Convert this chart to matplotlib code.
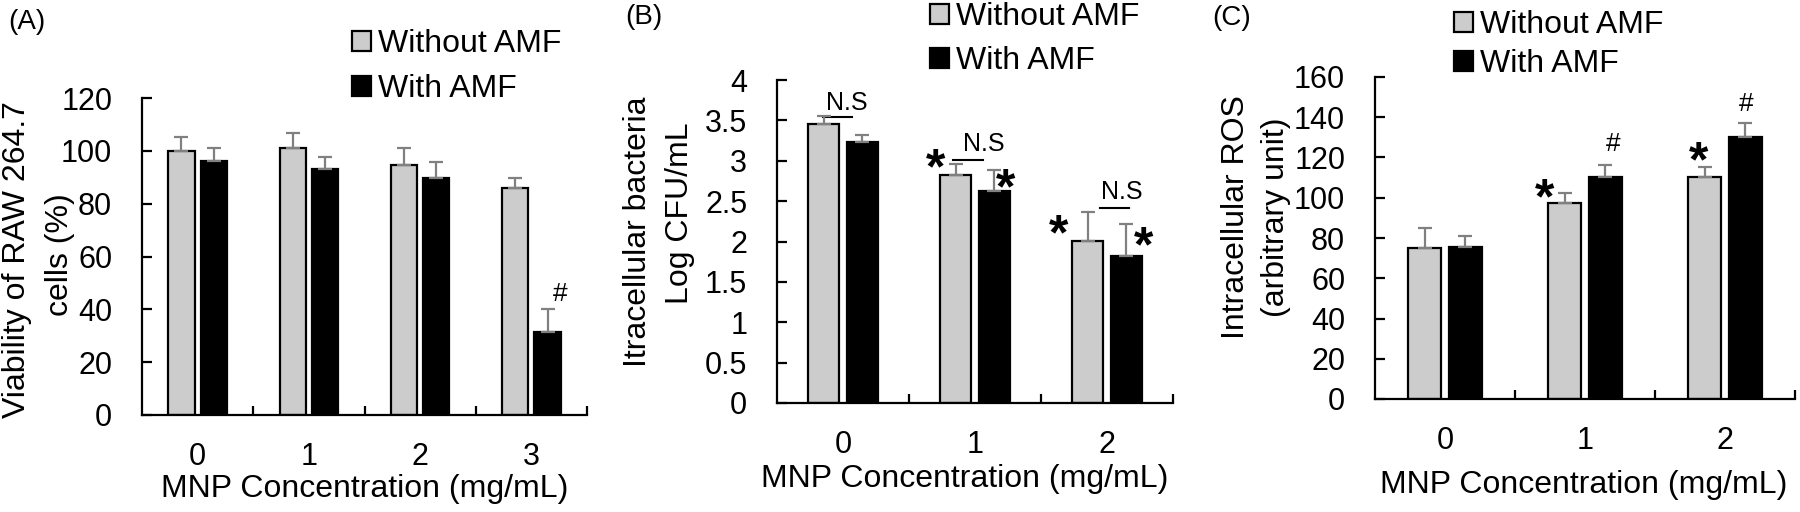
import numpy as np
import matplotlib
matplotlib.use("Agg")
import matplotlib.pyplot as plt

plt.rcParams["font.family"] = ["Liberation Sans", "DejaVu Sans"]

# (A) cell viability
conc_a = ["0", "1", "2", "3"]
viab_without = [100, 101, 94.8, 85.8]
viab_without_err = [5.3, 5.9, 6.4, 4.0]
viab_with = [96.3, 93, 89.8, 31.5]
viab_with_err = [4.7, 4.5, 6.1, 8.5]

# (B) intracellular bacteria
conc_b = ["0", "1", "2"]
cfu_without = [3.46, 2.82, 2.01]
cfu_without_err = [0.09, 0.14, 0.36]
cfu_with = [3.23, 2.62, 1.82]
cfu_with_err = [0.09, 0.26, 0.40]

# (C) intracellular ROS
conc_c = ["0", "1", "2"]
ros_without = [75.2, 97.4, 110.3]
ros_without_err = [9.9, 5.0, 5.0]
ros_with = [75.4, 110.3, 130.2]
ros_with_err = [5.6, 6.0, 6.8]

# significance marks: (category, offset, value)
hash_a = [(3, 0.26, 46.6)]
star_b = [(1, -0.30, 2.98), (1, 0.23, 2.74), (2, -0.37, 2.17), (2, 0.28, 2.02)]
# N.S bracket: (category, x0, x1, line value, text offset, text value)
ns_b = [(0, -0.15, 0.07, 3.54, 0.03, 3.75),
        (1, -0.165, 0.06, 3.01, 0.065, 3.24),
        (2, -0.05, 0.17, 2.41, 0.11, 2.64)]
star_c = [(1, -0.286, 103), (2, -0.19, 121)]
hash_c = [(1, 0.20, 127.7), (2, 0.15, 147.6)]

GRAY = "#cccccc"
ERR = "#808080"
W = 0.235
OFF = 0.145

fig = plt.figure(figsize=(18, 5.12), dpi=100)


def panel(rect, cats, a, aerr, b, berr, ymax, ystep, ylines, xlab_xy,
          leg_xy, leg_space, tag, tag_xy):
    ax = fig.add_axes(rect)
    x = np.arange(len(cats)) + 0.5
    kw = dict(width=W, edgecolor="black", linewidth=1.6, zorder=2)
    ekw = dict(ecolor=ERR, elinewidth=1.6, capsize=4.7, capthick=1.6)
    ax.bar(x - OFF, a, color=GRAY, label="Without AMF",
           yerr=[np.zeros(len(a)), aerr], error_kw=ekw, **kw)
    ax.bar(x + OFF, b, color="black", label="With AMF",
           yerr=[np.zeros(len(b)), berr], error_kw=ekw, **kw)

    ax.set_xlim(0, len(cats))
    ax.set_ylim(0, ymax)
    ax.set_xticks(x)
    ax.set_xticklabels(cats)
    ax.set_xticks(np.arange(1, len(cats) + 1), minor=True)
    ax.tick_params(axis="x", which="major", length=0, pad=19.5, labelsize=22)
    ax.tick_params(axis="x", which="minor", direction="in", length=6.5, width=1.6)
    yt = np.arange(0, ymax + ystep / 2, ystep)
    ax.set_yticks(yt)
    ax.set_yticklabels([f"{v:g}" for v in yt])
    ax.tick_params(axis="y", direction="in", length=7, width=1.6, pad=21.5,
                   labelsize=22)
    for s in ["top", "right"]:
        ax.spines[s].set_visible(False)
    for s in ["left", "bottom"]:
        ax.spines[s].set_linewidth(1.6)

    # two-line y label, each line placed where it sits in the original
    for txt, lx, ly in ylines:
        ax.text(lx, ly, txt, transform=ax.transAxes, rotation=90,
                ha="center", va="center", fontsize=23)
    ax.set_xlabel("MNP Concentration (mg/mL)", fontsize=23)
    ax.xaxis.set_label_coords(*xlab_xy)

    ax.legend(loc="center left", bbox_to_anchor=leg_xy,
              bbox_transform=fig.transFigure, frameon=False, fontsize=23,
              handlelength=0.6, handleheight=0.6, handletextpad=0.2,
              labelspacing=leg_space, borderpad=0, borderaxespad=0)
    fig.text(tag_xy[0], tag_xy[1], tag, fontsize=20, ha="center", va="center")
    return ax


def mark(ax, s, cx, y, size, dy, bold=False):
    ax.annotate(s, (cx, y), xytext=(0, dy), textcoords="offset points",
                ha="center", va="center", fontsize=size,
                fontweight="bold" if bold else "normal")


ax_a = panel([142 / 1800, 1 - 415 / 512, 445 / 1800, 317 / 512], conc_a,
             viab_without, viab_without_err, viab_with, viab_with_err,
             120, 20,
             [("Viability of RAW 264.7", -0.281, 0.49), ("cells (%)", -0.184, 0.505)],
             (0.5, -0.186), (352 / 1800, 1 - 66.5 / 512), 0.47, "(A)",
             (27 / 1800, 1 - 22 / 512))
for c, o, v in hash_a:
    mark(ax_a, "#", c + 0.5 + o, v, 19, -1.6)

ax_b = panel([777 / 1800, 1 - 403 / 512, 396 / 1800, 323 / 512], conc_b,
             cfu_without, cfu_without_err, cfu_with, cfu_with_err,
             4, 0.5,
             [("Itracellular bacteria", -0.35, 0.53), ("Log CFU/mL", -0.245, 0.588)],
             (0.473, -0.189), (930 / 1800, 1 - 39 / 512), 0.44, "(B)",
             (644 / 1800, 1 - 17 / 512))
for c, o, v in star_b:
    mark(ax_b, "*", c + 0.5 + o, v, 36, -6, bold=True)
for c, x0, x1, v, to, tv in ns_b:
    ax_b.plot([c + 0.5 + x0, c + 0.5 + x1], [v, v], color="black", lw=1.5)
    mark(ax_b, "N.S", c + 0.5 + to, tv, 18, -1.7)

ax_c = panel([1375 / 1800, 1 - 399 / 512, 420 / 1800, 322 / 512], conc_c,
             ros_without, ros_without_err, ros_with, ros_with_err,
             160, 20,
             [("Intracellular ROS", -0.332, 0.565), ("(arbitrary unit)", -0.236, 0.565)],
             (0.496, -0.22), (1454 / 1800, 1 - 44.5 / 512), 0.28, "(C)",
             (1232 / 1800, 1 - 18 / 512))
for c, o, v in star_c:
    mark(ax_c, "*", c + 0.5 + o, v, 36, -6, bold=True)
for c, o, v in hash_c:
    mark(ax_c, "#", c + 0.5 + o, v, 19, -1.6)

fig.savefig("out.png", dpi=100)
